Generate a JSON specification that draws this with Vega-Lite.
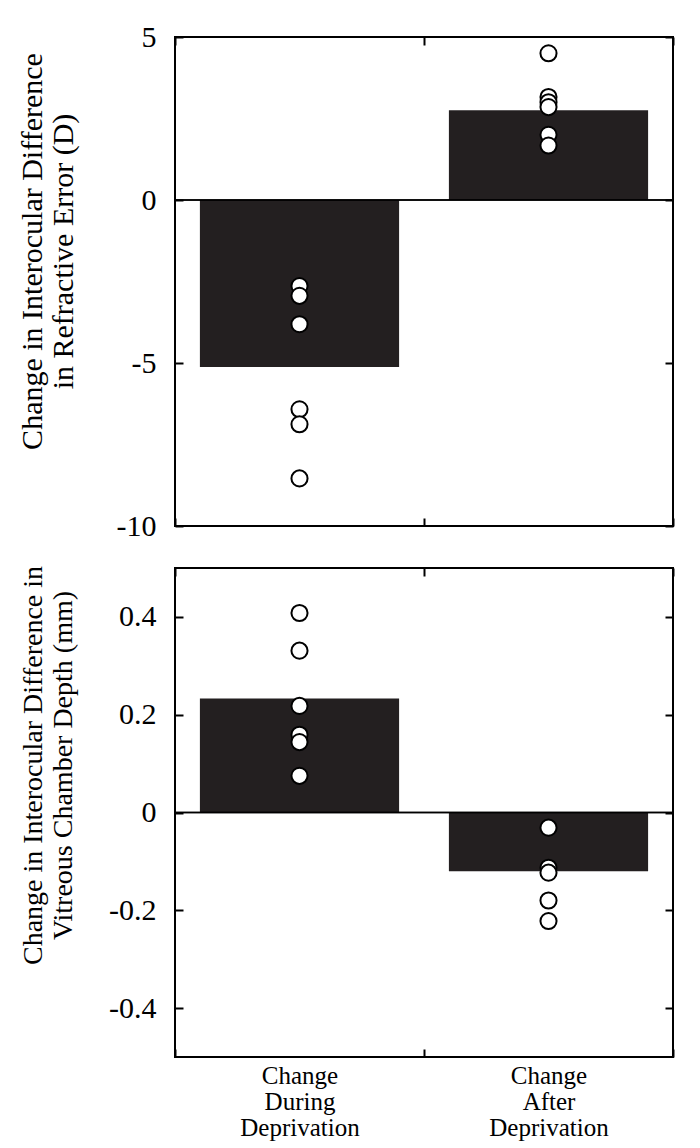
{
  "$schema": "https://vega.github.io/schema/vega-lite/v6.json",
  "background": "white",
  "padding": {"left": 15, "top": 21, "right": 20, "bottom": 4},
  "spacing": 42,
  "bounds": "flush",
  "config": {
    "font": "Liberation Serif",
    "view": {"stroke": "black", "strokeWidth": 2},
    "axis": {
      "domain": false,
      "grid": false,
      "offset": -8,
      "tickColor": "black",
      "tickSize": 8,
      "tickWidth": 2,
      "labelColor": "black",
      "titleColor": "black",
      "labelFont": "Liberation Serif",
      "titleFont": "Liberation Serif",
      "titleFontWeight": "normal"
    }
  },
  "datasets": {
    "refraction_means": [
      {"period": "During", "change": -5.12},
      {"period": "After", "change": 2.75}
    ],
    "refraction_points": [
      {"period": "During", "change": -2.64},
      {"period": "During", "change": -2.94},
      {"period": "During", "change": -3.81},
      {"period": "During", "change": -6.42},
      {"period": "During", "change": -6.88},
      {"period": "During", "change": -8.54},
      {"period": "After", "change": 4.5},
      {"period": "After", "change": 3.16},
      {"period": "After", "change": 3.0},
      {"period": "After", "change": 2.85},
      {"period": "After", "change": 2.0},
      {"period": "After", "change": 1.67}
    ],
    "vcd_means": [
      {"period": "During", "change": 0.233},
      {"period": "After", "change": -0.12}
    ],
    "vcd_points": [
      {"period": "During", "change": 0.408},
      {"period": "During", "change": 0.331},
      {"period": "During", "change": 0.218},
      {"period": "During", "change": 0.159},
      {"period": "During", "change": 0.144},
      {"period": "During", "change": 0.075},
      {"period": "After", "change": -0.031},
      {"period": "After", "change": -0.113},
      {"period": "After", "change": -0.123},
      {"period": "After", "change": -0.18},
      {"period": "After", "change": -0.222}
    ]
  },
  "vconcat": [
    {
      "width": 498,
      "height": 489,
      "layer": [
        {
          "data": {"name": "refraction_means"},
          "mark": {"type": "bar", "color": "#231f20", "width": {"band": 0.8}},
          "encoding": {
            "x": {"field": "period", "type": "nominal", "sort": ["During", "After"],
                  "scale": {"paddingInner": 0, "paddingOuter": 0},
                  "axis": {"orient": "bottom", "labels": false, "title": null, "tickBand": "extent"}},
            "y": {"field": "change", "type": "quantitative",
                  "scale": {"domain": [-10, 5], "nice": false, "zero": false},
                  "axis": {"orient": "left", "values": [-10, -5, 0, 5], "labelExpr": "'' + datum.value",
                           "labelFontSize": 30, "labelPadding": 19,
                           "title": ["Change in Interocular Difference", "in  Refractive Error (D)"],
                           "titleFontSize": 30, "titleLineHeight": 31, "titleX": -136, "titleY": 214}}
          }
        },
        {
          "data": {"name": "refraction_means"},
          "mark": {"type": "rule", "color": "black", "strokeWidth": 1.5},
          "encoding": {"y": {"datum": 0, "type": "quantitative", "axis": null}}
        },
        {
          "data": {"name": "refraction_points"},
          "mark": {"type": "point", "shape": "circle", "filled": true, "fill": "white", "stroke": "black", "strokeWidth": 2, "size": 260, "opacity": 1},
          "encoding": {
            "x": {"field": "period", "type": "nominal", "sort": ["During", "After"],
                  "axis": {"orient": "top", "labels": false, "title": null, "tickBand": "extent"}},
            "y": {"field": "change", "type": "quantitative",
                  "axis": {"orient": "right", "values": [-10, -5, 0, 5], "labels": false, "title": null}}
          }
        }
      ],
      "resolve": {"axis": {"x": "independent", "y": "independent"}}
    },
    {
      "width": 498,
      "height": 489,
      "layer": [
        {
          "data": {"name": "vcd_means"},
          "mark": {"type": "bar", "color": "#231f20", "width": {"band": 0.8}},
          "encoding": {
            "x": {"field": "period", "type": "nominal", "sort": ["During", "After"],
                  "scale": {"paddingInner": 0, "paddingOuter": 0},
                  "axis": {"orient": "bottom", "title": null, "tickBand": "extent", "labelAngle": 0,
                           "labelExpr": "datum.value == 'During' ? ['Change', 'During', 'Deprivation'] : datum.value == 'After' ? ['Change', 'After', 'Deprivation'] : ''",
                           "labelFontSize": 25, "labelLineHeight": 26, "labelPadding": 6, "labelBaseline": "top"}},
            "y": {"field": "change", "type": "quantitative",
                  "scale": {"domain": [-0.5, 0.5], "nice": false, "zero": false},
                  "axis": {"orient": "left", "values": [-0.4, -0.2, 0, 0.2, 0.4], "labelExpr": "'' + datum.value",
                           "labelFontSize": 30, "labelPadding": 19,
                           "title": ["Change in Interocular Difference in", "Vitreous Chamber Depth (mm)"],
                           "titleFontSize": 28, "titleLineHeight": 30, "titleX": -136, "titleY": 197}}
          }
        },
        {
          "data": {"name": "vcd_means"},
          "mark": {"type": "rule", "color": "black", "strokeWidth": 1.5},
          "encoding": {"y": {"datum": 0, "type": "quantitative", "axis": null}}
        },
        {
          "data": {"name": "vcd_points"},
          "mark": {"type": "point", "shape": "circle", "filled": true, "fill": "white", "stroke": "black", "strokeWidth": 2, "size": 260, "opacity": 1},
          "encoding": {
            "x": {"field": "period", "type": "nominal", "sort": ["During", "After"],
                  "axis": {"orient": "top", "labels": false, "title": null, "tickBand": "extent"}},
            "y": {"field": "change", "type": "quantitative",
                  "axis": {"orient": "right", "values": [-0.4, -0.2, 0, 0.2, 0.4], "labels": false, "title": null}}
          }
        }
      ],
      "resolve": {"axis": {"x": "independent", "y": "independent"}}
    }
  ]
}
